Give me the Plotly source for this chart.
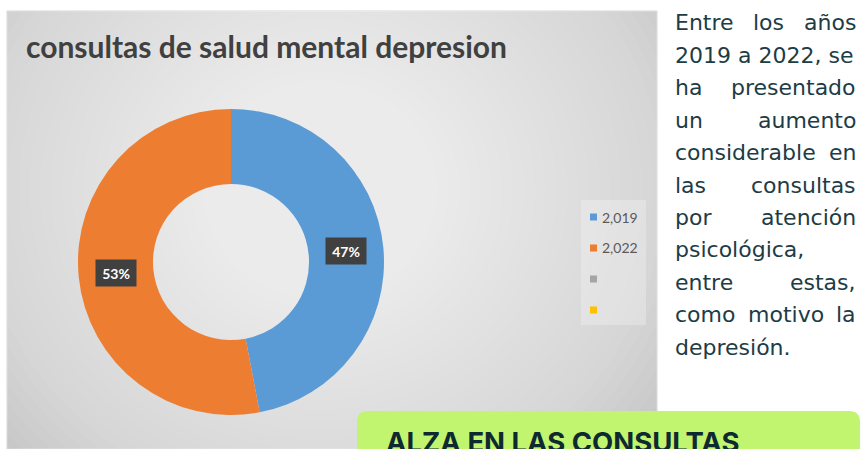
import math
import plotly.graph_objects as go

# Datos del gráfico
categorias = ["2,019", "2,022", "", ""]
valores = [47, 53, 0, 0]
colores = ["#5B9BD5", "#ED7D31", "#A5A5A5", "#FFC000"]

titulo = "consultas de salud mental depresion"

lineas_texto = [
    "Entre los años",
    "2019 a 2022, se",
    "ha presentado",
    "un aumento",
    "considerable en",
    "las consultas",
    "por atención",
    "psicológica,",
    "entre estas,",
    "como motivo la",
    "depresión.",
]
# lineas justificadas (las demas van alineadas a la izquierda)
lineas_justificadas = [True, False, True, True, True, True, True, False, True, True, False]

texto_recuadro = "ALZA EN LAS CONSULTAS"

W, H = 868, 449

# anchos aproximados de DejaVu Sans (unidades de 2048 por em)
ANCHOS = {"m": 1995, "w": 1675, "i": 569, "l": 569, "t": 803, "r": 842,
          ",": 651, ".": 651, "E": 1294, "s": 1067, "c": 1100}


def ancho_palabra(p, tam):
    return sum(ANCHOS.get(ch, 1260) for ch in p) / 2048 * tam


def px(x):
    return x / W


def py(y):
    return 1 - y / H


def fondo_degradado():
    """
    Panel gris con degradado radial aproximado con muchas elipses blancas
    """
    formas = [dict(type="rect", xref="paper", yref="paper",
                   x0=px(7), x1=px(657), y0=py(449), y1=py(11),
                   fillcolor="#c4c4c4", line=dict(color="#d6d6d6", width=1),
                   layer="below")]
    cx, cy, rx, ry = 320, 190, 430, 400
    n = 40
    for k in range(n, 0, -1):
        f = k / n
        formas.append(dict(type="circle", xref="paper", yref="paper",
                           x0=px(cx - rx * f), x1=px(cx + rx * f),
                           y0=py(cy + ry * f), y1=py(cy - ry * f),
                           fillcolor="white", opacity=0.048, line=dict(width=0),
                           layer="below"))
    # caja de la leyenda
    formas.append(dict(type="rect", xref="paper", yref="paper",
                       x0=px(581), x1=px(646), y0=py(325), y1=py(200),
                       fillcolor="white", opacity=0.25, line=dict(width=0),
                       layer="below"))
    return formas


def recuadro_verde(x0, y0, x1, y1, r):
    # rectangulo con esquinas redondeadas (en coordenadas de papel)
    camino = (
        f"M {px(x0 + r)},{py(y0)} L {px(x1 - r)},{py(y0)} "
        f"Q {px(x1)},{py(y0)} {px(x1)},{py(y0 + r)} "
        f"L {px(x1)},{py(y1 - r)} Q {px(x1)},{py(y1)} {px(x1 - r)},{py(y1)} "
        f"L {px(x0 + r)},{py(y1)} Q {px(x0)},{py(y1)} {px(x0)},{py(y1 - r)} "
        f"L {px(x0)},{py(y0 + r)} Q {px(x0)},{py(y0)} {px(x0 + r)},{py(y0)} Z"
    )
    return dict(type="path", xref="paper", yref="paper", path=camino,
                fillcolor="#c2f56f", line=dict(width=0), layer="above")


def texto(x, y, t, fuente, xanchor="left"):
    return dict(x=px(x), y=py(y), xref="paper", yref="paper", xanchor=xanchor,
                yanchor="middle", text=t, showarrow=False, font=fuente)


def gera_grafico():
    fig = go.Figure()

    # Dona
    cx, cy, r_ext = 231, 262, 153
    hueco = 0.51
    etiquetas = [c for c, v in zip(categorias, valores) if v > 0]
    vals = [v for v in valores if v > 0]
    cols = [c for c, v in zip(colores, valores) if v > 0]

    fig.add_trace(go.Pie(
        labels=etiquetas,
        values=vals,
        hole=hueco,
        sort=False,
        direction="clockwise",
        rotation=0,
        marker=dict(colors=cols, line=dict(width=0)),
        textinfo="none",
        hoverinfo="label+percent",
        showlegend=False,
        domain=dict(x=[px(cx - r_ext), px(cx + r_ext)],
                    y=[py(cy + r_ext), py(cy - r_ext)]),
    ))

    anotaciones = []

    # etiquetas de porcentaje con caja oscura
    total = sum(valores)
    acumulado = 0
    r_medio = r_ext * (1 + hueco) / 2
    for v in valores:
        if v == 0:
            continue
        ang = (acumulado + v / 2) / total * 2 * math.pi
        acumulado += v
        x = cx + r_medio * math.sin(ang)
        y = cy - r_medio * math.cos(ang)
        a = texto(x, y, f"<b>{round(v / total * 100)}%</b>",
                  dict(family="Lato", size=14, color="white"), xanchor="center")
        a.update(bgcolor="#404040", width=38, height=24)
        anotaciones.append(a)

    # titulo
    anotaciones.append(texto(24, 46, f"<b>{titulo}</b>",
                             dict(family="Lato", size=30, color="#404040")))

    # leyenda manual
    formas = fondo_degradado()
    for i, (c, col) in enumerate(zip(categorias, colores)):
        y = 217 + 31 * i
        formas.append(dict(type="rect", xref="paper", yref="paper",
                           x0=px(590), x1=px(597), y0=py(y + 3.5), y1=py(y - 3.5),
                           fillcolor=col, line=dict(width=0)))
        if c:
            anotaciones.append(texto(600, y, c, dict(family="Lato", size=14, color="#595959")))

    # texto de la derecha (justificado a mano)
    x_izq, x_der = 673, 858
    tam = 22
    fuente = dict(family="DejaVu Sans", size=tam, color="#1d3c45")
    for k, (linea, just) in enumerate(zip(lineas_texto, lineas_justificadas)):
        y = 23 + 32.4 * k
        palabras = linea.split(" ")
        if not just or len(palabras) == 1:
            anotaciones.append(texto(x_izq, y, linea, fuente))
            continue
        anotaciones.append(texto(x_izq, y, palabras[0], fuente))
        anotaciones.append(texto(x_der, y, palabras[-1], fuente, xanchor="right"))
        anchos = [ancho_palabra(p, tam) for p in palabras]
        hueco_txt = (x_der - x_izq - sum(anchos)) / (len(palabras) - 1)
        pos = x_izq + anchos[0] + hueco_txt
        for p, w in zip(palabras[1:-1], anchos[1:-1]):
            anotaciones.append(texto(pos + w / 2, y, p, fuente, xanchor="center"))
            pos += w + hueco_txt

    # recuadro verde inferior
    formas.append(recuadro_verde(357, 411, 860, 470, 11))
    anotaciones.append(texto(384, 442, f"<b>{texto_recuadro}</b>",
                             dict(family="Inter", size=27.5, color="#0e2a30")))

    fig.update_layout(
        width=W, height=H,
        margin=dict(l=0, r=0, t=0, b=0),
        paper_bgcolor="white",
        shapes=formas,
        annotations=anotaciones,
        showlegend=False,
    )

    fig.write_html("out.html", config={"displayModeBar": False},
                   post_script="document.body.style.margin='0';")


if __name__ == "__main__":
    gera_grafico()
